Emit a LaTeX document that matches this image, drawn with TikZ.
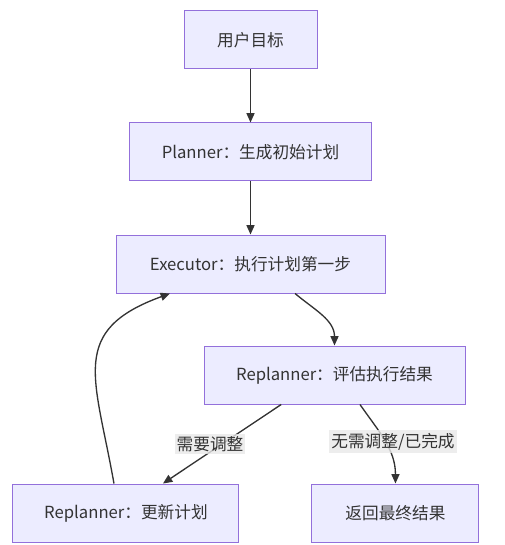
\documentclass[tikz,border=0pt]{standalone}
\usepackage{fontspec}
\setmainfont{Noto Sans CJK SC}
\usepackage{tikz}
\usetikzlibrary{positioning,arrows.meta}

\definecolor{nodefill}{HTML}{ECECFF}
\definecolor{nodeborder}{HTML}{9370DB}
\definecolor{linegray}{HTML}{333333}
\definecolor{textgray}{HTML}{333333}
\definecolor{labelgray}{HTML}{E8E8E8}

\begin{document}
\begin{tikzpicture}[
        x=0.75pt, y=-0.75pt,
        block/.style={rectangle, draw=nodeborder, fill=nodefill, line width=0.75pt, minimum height=43.5pt, text=textgray, font=\fontsize{12.5}{14}\selectfont},
        arrow/.style={-{Triangle[length=7pt,width=6pt]}, draw=linegray, line width=1pt},
        edgelabel/.style={fill=labelgray, fill opacity=0.8, text opacity=1, inner xsep=1.5pt, inner ysep=2pt, text=textgray, font=\fontsize{12.5}{14}\selectfont}
    ]
    \useasboundingbox (0,0) rectangle (504,545);

    % Start node
    \node[block, minimum width=99.75pt] (goal) at (250.5,40) {用户目标};

    % Plan and execute
    \node[block, minimum width=181.5pt, below=39.75pt of goal] (planner) {Planner：生成初始计划};
    \node[block, minimum width=201.75pt, below=39.75pt of planner] (executor) {Executor：执行计划第一步};

    % Evaluation
    \node[block, minimum width=195.75pt, below=39pt of executor, xshift=63pt] (evaluate) {Replanner：评估执行结果};

    % Outcomes
    \node[block, minimum width=169.5pt, below=59.25pt of evaluate, xshift=-156.4pt] (update) {Replanner：更新计划};
    \node[block, minimum width=125.25pt, right=54pt of update] (result) {返回最终结果};

    % Connect everything
    \draw[arrow] (goal) -- (planner);
    \draw[arrow] (planner) -- (executor);
    \draw[arrow] ([xshift=33.4pt]executor.south) to[out=-40, in=90] (evaluate.north);
    \draw[arrow] ([xshift=-40pt]evaluate.south) -- node[edgelabel, pos=0.5, xshift=-9pt] {需要调整} ([xshift=27.75pt]update.north);
    \draw[arrow] ([xshift=19.1pt]evaluate.south) to[out=-55, in=90] node[edgelabel, pos=0.5, xshift=6pt] {无需调整/已完成} (result.north);
    \draw[arrow] ([xshift=-9pt]update.north) to[out=100, in=200, looseness=1.4] ([xshift=-60.4pt]executor.south);
\end{tikzpicture}
\end{document}
